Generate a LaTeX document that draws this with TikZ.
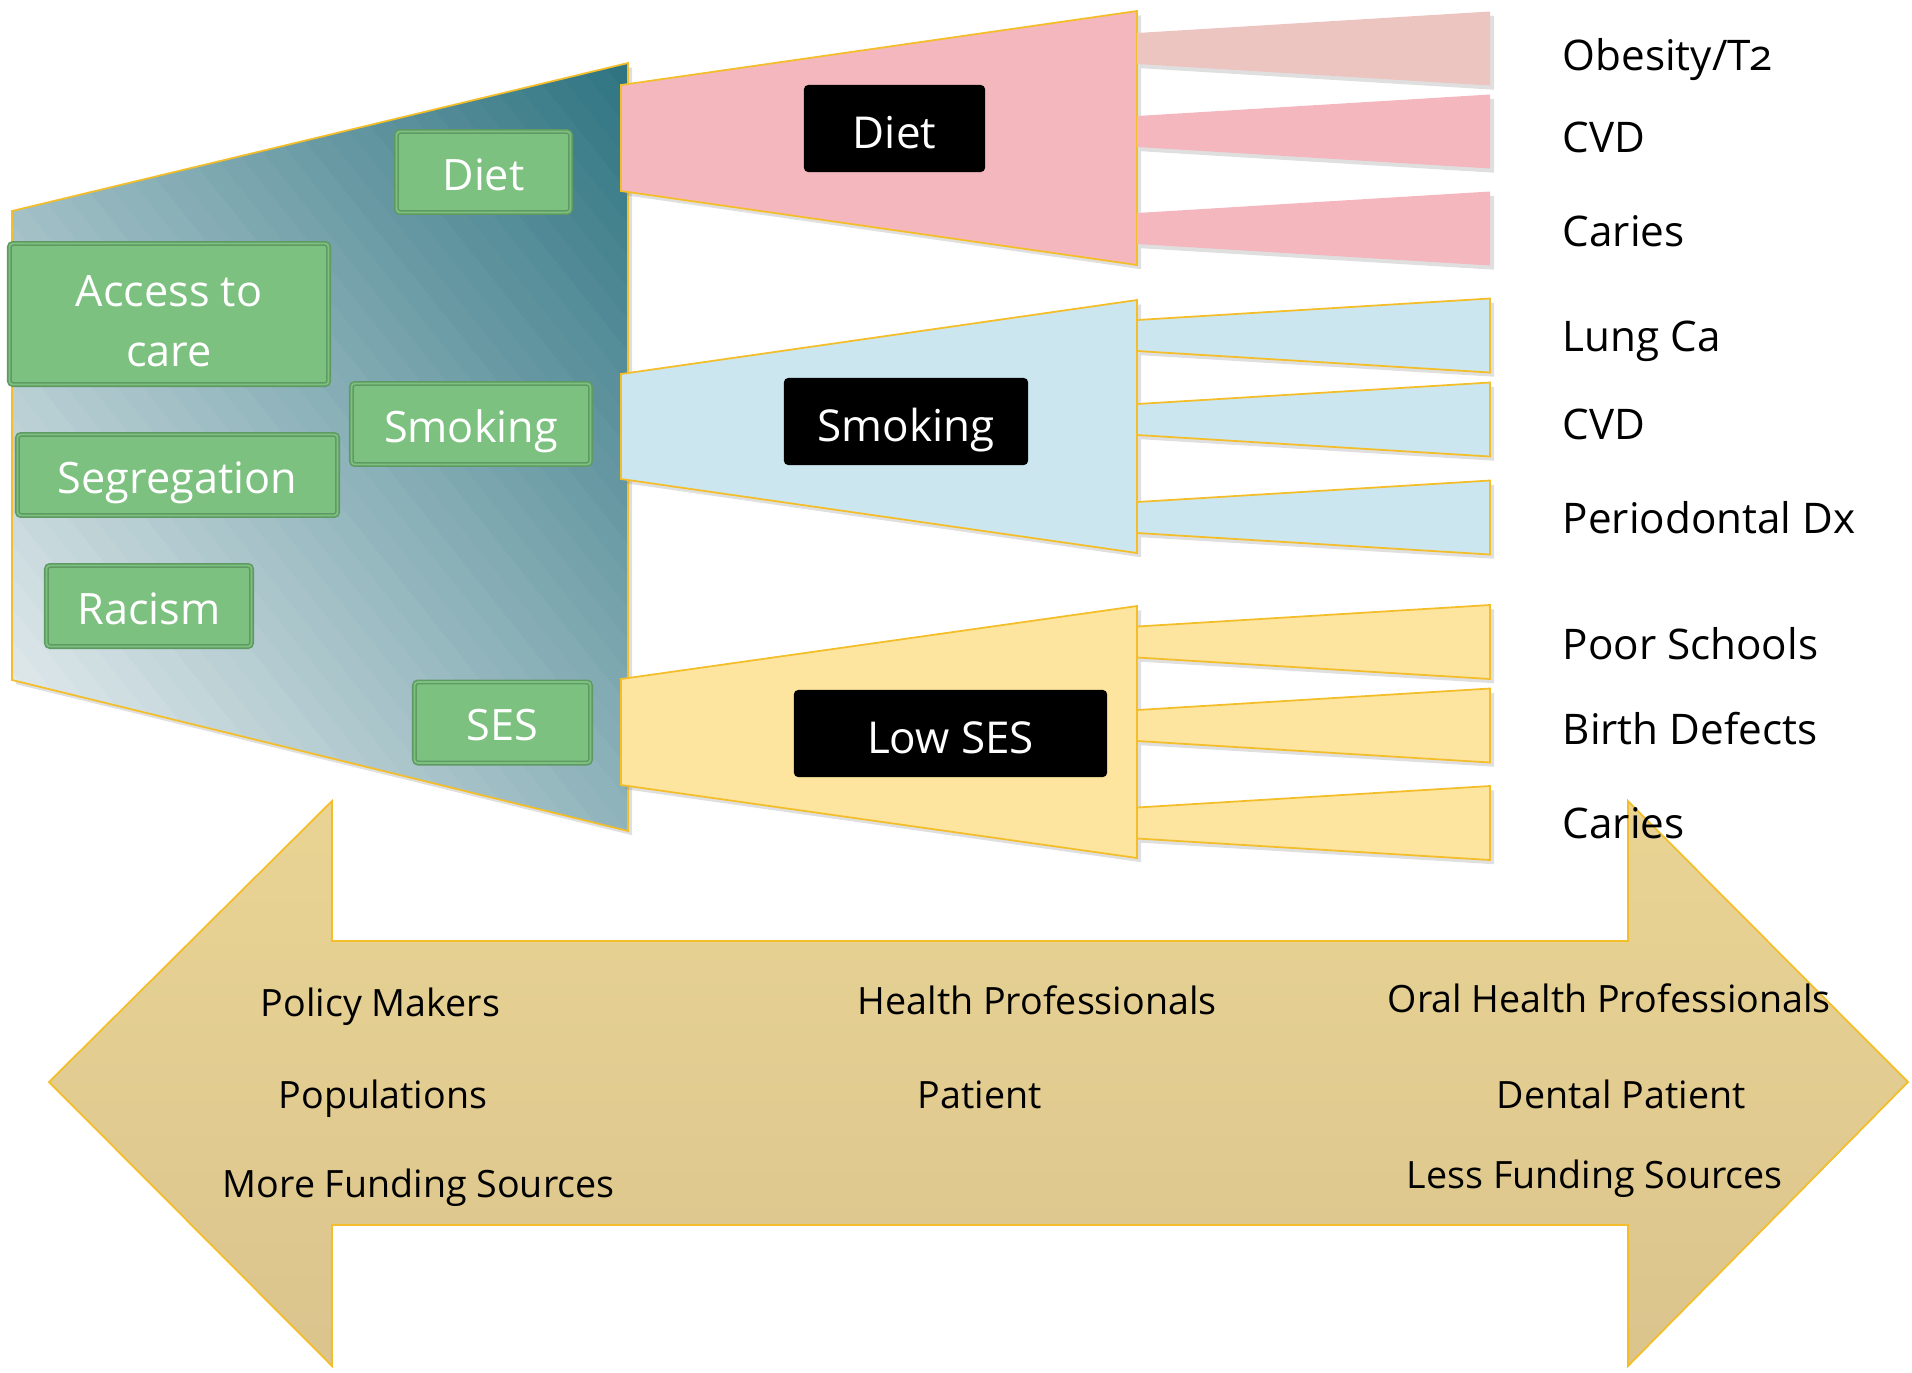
\documentclass[tikz,border=0pt]{standalone}
\usepackage{fontspec}
\setmainfont{Open Sans}[Numbers=OldStyle]
\usetikzlibrary{shadows}

\definecolor{tealdark}{HTML}{2E7381}
\definecolor{tealpale}{HTML}{F2F5F6}
\definecolor{goldline}{HTML}{F3BE2A}
\definecolor{causefill}{HTML}{7CC17F}
\definecolor{causeedge}{HTML}{5F9A63}
\definecolor{pinkfill}{HTML}{F4B7BE}
\definecolor{pinkpale}{HTML}{ECC5C1}
\definecolor{bluefill}{HTML}{CBE6EE}
\definecolor{yellowfill}{HTML}{FDE49F}
\definecolor{arrowtop}{HTML}{E9D494}
\definecolor{arrowbot}{HTML}{DBC48D}

\begin{document}
\begin{tikzpicture}[x=0.01cm, y=-0.01cm,
  causebox/.style={draw=causeedge, double=causefill, double distance=0.5pt, line width=0.45pt,
    fill=causefill, text=white, rounded corners=1pt, align=center, inner sep=0pt,
    minimum height=0.81cm, text height=10.5pt, text depth=0pt, font=\fontsize{12.3}{17}\selectfont},
  factorbox/.style={fill=black, text=white, rounded corners=1.2pt, inner sep=0pt,
    minimum height=0.87cm, text height=11.3pt, text depth=0pt, font=\fontsize{12.5}{15}\selectfont},
  outcome/.style={anchor=base west, inner sep=0pt, font=\fontsize{12}{14}\selectfont},
  actor/.style={anchor=base west, inner sep=0pt, font=\fontsize{10.7}{13}\selectfont},
  soft shadow/.style={drop shadow={shadow xshift=1.2pt, shadow yshift=-1.2pt, opacity=0.25}},
  funnel/.style={draw=goldline, line width=0.5pt, soft shadow}
]
\useasboundingbox (0,0) rectangle (1912,1372);

% double arrow at the bottom
\shadedraw[draw=goldline, line width=0.5pt, top color=arrowtop, bottom color=arrowbot]
  (49,1082) -- (332,801) -- (332,941) -- (1628,941) -- (1628,801) -- (1908,1082)
  -- (1628,1366) -- (1628,1225) -- (332,1225) -- (332,1366) -- cycle;

% causes panel, diagonal gradient in strips
\fill[soft shadow, fill=tealpale] (12,211) -- (628,63) -- (628,831) -- (12,680) -- cycle;
\begin{scope}
  \clip (12,211) -- (628,63) -- (628,831) -- (12,680) -- cycle;
  \foreach \i in {0,...,47} {
    \pgfmathsetmacro{\pct}{100*(\i+0.5)/48}
    \pgfmathsetmacro{\ca}{2*\i/48}
    \pgfmathsetmacro{\cb}{2*(\i+1)/48+0.01}
    \fill[tealdark!\pct!tealpale]
      (-604,{832-769*(\ca+1)}) -- (1244,{832-769*(\ca-2)})
      -- (1244,{832-769*(\cb-2)}) -- (-604,{832-769*(\cb+1)}) -- cycle;
  }
\end{scope}
\draw[goldline, line width=0.5pt] (12,211) -- (628,63) -- (628,831) -- (12,680) -- cycle;

% funnels
\fill[funnel, fill=pinkfill] (621,85) -- (1137,11) -- (1137,265) -- (621,191) -- cycle;
\fill[funnel, fill=bluefill] (621,374) -- (1137,300) -- (1137,553) -- (621,479) -- cycle;
\fill[funnel, fill=yellowfill] (621,679) -- (1137,606) -- (1137,858) -- (621,785) -- cycle;

% branches
\foreach \c/\col in {48.5/pinkpale, 131.5/pinkfill, 228.5/pinkfill}
  \fill[soft shadow, fill=\col] (1137,\c-15.5) -- (1490,\c-37) -- (1490,\c+37) -- (1137,\c+15.5) -- cycle;
\foreach \c in {335.5, 419.5, 517.5}
  \fill[funnel, fill=bluefill] (1137,\c-15.5) -- (1490,\c-37) -- (1490,\c+37) -- (1137,\c+15.5) -- cycle;
\foreach \c in {642, 725.5, 823}
  \fill[funnel, fill=yellowfill] (1137,\c-15.5) -- (1490,\c-37) -- (1490,\c+37) -- (1137,\c+15.5) -- cycle;

% causes
\node[causebox, minimum width=1.74cm] (dietcause) at (483.5,172) {Diet};
\node[causebox, minimum width=3.19cm, minimum height=1.41cm, text height=11.8pt]
  (access) at (169,314) {\begin{tabular}{@{}c@{}}Access to\\care\end{tabular}};
\node[causebox, minimum width=2.39cm] (smokecause) at (471,424) {Smoking};
\node[causebox, minimum width=3.20cm] (segregation) at (177.5,475) {Segregation};
\node[causebox, minimum width=2.05cm] (racism) at (149,606) {Racism};
\node[causebox, minimum width=1.76cm] (sescause) at (502.5,722.5) {SES};

% factors
\node[factorbox, minimum width=1.81cm] (dietbox) at (894.5,128.5) {Diet};
\node[factorbox, minimum width=2.44cm] (smokebox) at (906,421.5) {Smoking};
\node[factorbox, minimum width=3.13cm] (sesbox) at (950.5,733.5) {Low SES};

% outcomes
\node[outcome] (obesity) at (1562,70) {Obesity/T2};
\node[outcome] (cvddiet) at (1562,152) {CVD};
\node[outcome] (cariesdiet) at (1562,246) {Caries};
\node[outcome] (lungca) at (1562,351) {Lung Ca};
\node[outcome] (cvdsmoke) at (1562,439) {CVD};
\node[outcome] (perio) at (1562,533) {Periodontal Dx};
\node[outcome] (schools) at (1562,659) {Poor Schools};
\node[outcome] (defects) at (1562,744) {Birth Defects};
\node[outcome] (cariesses) at (1562,838) {Caries};

% actors along the arrow
\node[actor] (policy) at (260,1016) {Policy Makers};
\node[actor] (populations) at (278,1108) {Populations};
\node[actor] (morefund) at (222,1197) {More Funding Sources};
\node[actor] (healthpro) at (857,1014) {Health Professionals};
\node[actor] (patient) at (917,1108) {Patient};
\node[actor] (oralpro) at (1387,1012) {Oral Health Professionals};
\node[actor] (dentalpt) at (1496,1108) {Dental Patient};
\node[actor] (lessfund) at (1406,1188) {Less Funding Sources};
\end{tikzpicture}
\end{document}
